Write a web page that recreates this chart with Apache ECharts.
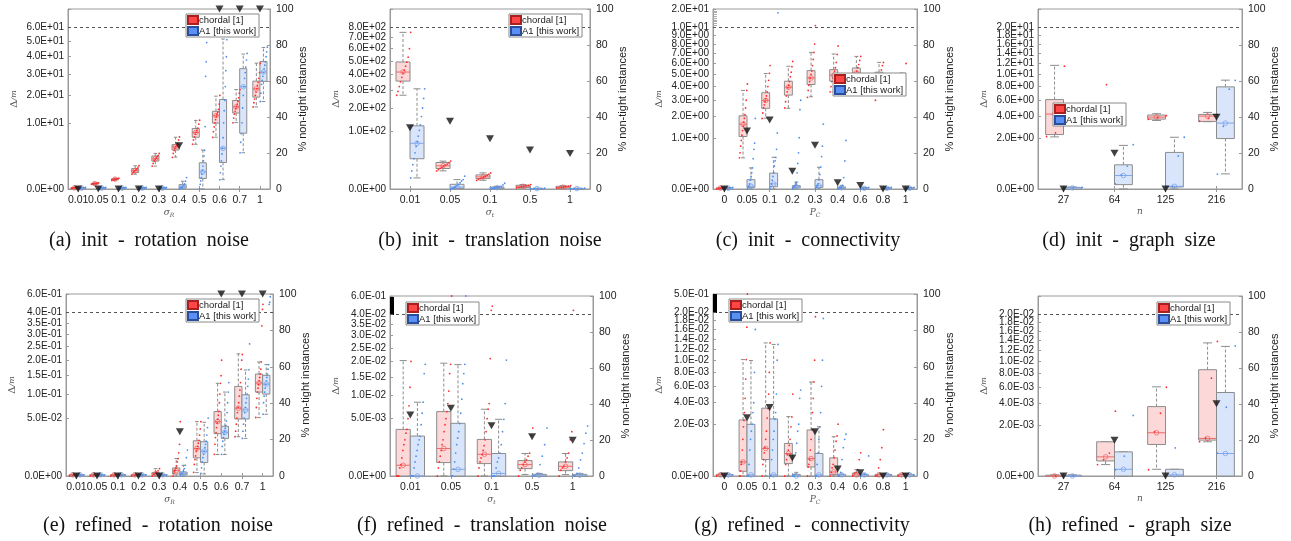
<!DOCTYPE html>
<html>
<head>
<meta charset="utf-8">
<script src="https://cdn.jsdelivr.net/npm/echarts@6/dist/echarts.min.js"></script>
<style>
  html, body { margin: 0; padding: 0; background: #fff; }
  #chart { width: 1291px; height: 541px; }
</style>
</head>
<body>
<div id="chart"></div>
<script>
// categories
const catsRot = ['0.01', '0.05', '0.1', '0.2', '0.3', '0.4', '0.5', '0.6', '0.7', '1']
const catsTrans = ['0.01', '0.05', '0.1', '0.5', '1']
const catsConn = ['0', '0.05', '0.1', '0.2', '0.3', '0.4', '0.6', '0.8', '1']
const catsSize = ['27', '64', '125', '216']

// (a) init - rotation noise   box = [min, q1, median, q3, max]
const aTicks = [0, 10, 20, 30, 40, 50, 60]
const aChordalBox = [[0.001, 0.002, 0.003, 0.005, 0.008], [0.05, 0.06, 0.066, 0.075, 0.085], [0.17, 0.2, 0.22, 0.24, 0.27], [0.5, 0.62, 0.78, 0.96, 1.23], [1.2, 1.78, 2.09, 2.48, 2.9], [2.33, 3.48, 4.04, 4.5, 6.13], [4.57, 6.13, 7.3, 8.37, 10.76], [6.13, 9.93, 12.3, 13.8, 19.7], [10.1, 13.2, 15.4, 17.9, 22.6], [15.4, 19.3, 22.95, 26.6, 36.2]]
const aA1Box = [[0, 0, 0.002, 0.004, 0.006], [0, 0, 0.002, 0.004, 0.006], [0, 0, 0.002, 0.004, 0.006], [0, 0, 0.002, 0.004, 0.006], [0, 0, 0.002, 0.004, 0.006], [0, 0.002, 0.01, 0.044, 0.137], [0, 0.25, 0.67, 1.57, 3.48], [0.2, 1.61, 3.78, 18.3, 51.4], [3.01, 7.12, 23.9, 33.1, 41.6], [17.5, 26.5, 31.3, 37.1, 45.8]]
const aChordalPts = [[0.001, 0.002, 0.003, 0.004, 0.006, 0.008], [0.05, 0.058, 0.063, 0.067, 0.072, 0.08, 0.088], [0.17, 0.19, 0.21, 0.22, 0.23, 0.25, 0.27], [0.5, 0.6, 0.7, 0.78, 0.85, 0.95, 1.1, 1.25], [1.2, 1.5, 1.8, 2.0, 2.2, 2.4, 2.6, 2.9], [2.3, 2.9, 3.4, 3.8, 4.1, 4.4, 4.8, 5.5, 6.2], [4.6, 5.5, 6.2, 6.9, 7.4, 7.9, 8.5, 9.6, 10.8], [6.1, 7.5, 8.8, 10, 11, 12, 12.8, 13.5, 14.5, 16.5, 20], [10, 11.5, 12.8, 13.8, 14.8, 15.6, 16.5, 17.5, 19, 21, 22.6], [15.4, 17, 18.5, 20, 21.5, 23, 24.5, 26, 28, 31, 36]]
const aA1Pts = [[0.0005, 0.001, 0.002, 0.003, 0.005], [0.0005, 0.001, 0.002, 0.003, 0.005], [0.0005, 0.001, 0.002, 0.003, 0.005], [0.0005, 0.001, 0.002, 0.003, 0.005], [0.0005, 0.001, 0.002, 0.003, 0.005], [0, 0.002, 0.005, 0.01, 0.03, 0.06, 0.14, 0.3], [0, 0.05, 0.15, 0.3, 0.5, 0.8, 1.2, 1.8, 2.5, 3.4, 8.9, 29, 37, 49], [0.2, 0.6, 1.2, 1.8, 2.8, 3.8, 6, 10, 14, 18, 24, 32, 40, 51], [3, 5, 7, 10, 15, 20, 24, 28, 31, 34, 38, 42], [17.5, 21, 25, 27, 29, 31, 33, 35, 37, 40, 43, 46]]
const aNonTight = [0, 0, 0, 0, 0, 24, null, 100, 100, 100]

// (b) init - translation noise
const bTicks = [0, 100, 200, 300, 400, 500, 600, 700, 800]
const bChordalBox = [[268, 355, 417, 492, 748], [10, 12.8, 16.4, 21.5, 23.7], [2.33, 3.31, 4.46, 6.07, 7.9], [0.03, 0.06, 0.22, 0.42, 0.6], [0.02, 0.03, 0.1, 0.22, 0.35]]
const bA1Box = [[3.75, 27.9, 63.7, 121.7, 306], [0, 0.01, 0.12, 0.67, 2.7], [0, 0.01, 0.05, 0.12, 0.22], [0, 0, 0.005, 0.01, 0.02], [0, 0, 0.005, 0.01, 0.02]]
const bChordalPts = [[268, 290, 320, 350, 380, 410, 430, 460, 490, 530, 600, 748], [10, 11.5, 13, 14.5, 16, 17.5, 19, 21, 23.7], [2.3, 2.8, 3.3, 3.8, 4.4, 5, 5.8, 6.8, 7.9], [0.03, 0.06, 0.12, 0.2, 0.3, 0.42, 0.6], [0.02, 0.04, 0.08, 0.12, 0.18, 0.25, 0.35]]
const bA1Pts = [[3.7, 10, 18, 28, 40, 55, 68, 85, 105, 125, 160, 200, 250, 306], [0, 0.01, 0.05, 0.12, 0.3, 0.67, 1.2, 2, 2.7, 5], [0, 0.01, 0.03, 0.05, 0.09, 0.12, 0.22, 0.5, 1], [0, 0.002, 0.005, 0.01, 0.02], [0, 0.002, 0.005, 0.01, 0.02]]
const bNonTight = [34, 37.7, 27.9, 21.7, 19.7]

// (c) init - connectivity
const cTicks = [0, 1, 2, 3, 4, 5, 6, 7, 8, 9, 10]
const cTopMax = 20
const cCramTicks = [11, 12, 13, 14, 15, 16, 17, 18, 19]
const cChordalBox = [[0, 0.0001, 0.0003, 0.0005, 0.001], [0.37, 1.05, 1.6, 2.04, 3.7], [1.91, 2.48, 2.99, 3.53, 5.08], [2.48, 3.36, 3.95, 4.43, 5.74], [3.24, 4.16, 4.7, 5.34, 7.11], [3.6, 4.43, 4.93, 5.43, 6.94], [3.6, 4.6, 5.13, 5.58, 6.7], [3.36, 4.2, 4.7, 5.2, 6.11], [3.46, 3.85, 4.16, 4.43, 5.13]]
const cA1Box = [[0, 0, 0.0002, 0.0005, 0.001], [0, 0.001, 0.003, 0.033, 0.17], [0, 0.002, 0.01, 0.096, 0.384], [0, 0.0005, 0.002, 0.0042, 0.018], [0, 0.001, 0.004, 0.033, 0.18], [0, 0.0002, 0.0006, 0.0015, 0.005], [0, 0, 0.0002, 0.0005, 0.001], [0, 0, 0.0002, 0.0005, 0.001], [0, 0, 0.0002, 0.0005, 0.001]]
const cChordalPts = [[0, 0.0001, 0.0003, 0.0006, 0.001], [0.37, 0.5, 0.7, 0.9, 1.1, 1.3, 1.5, 1.7, 1.9, 2.1, 2.5, 3, 3.7, 4.2], [1.9, 2.2, 2.5, 2.7, 2.9, 3.1, 3.3, 3.6, 4, 4.5, 5.1, 5.8], [2.5, 2.9, 3.3, 3.6, 3.9, 4.1, 4.4, 4.8, 5.2, 5.7, 6.2], [3.2, 3.7, 4.1, 4.4, 4.7, 5, 5.3, 5.8, 6.4, 7.1, 8, 10.8], [3.6, 4, 4.4, 4.7, 5, 5.3, 5.6, 6.1, 6.9, 7.8], [3.6, 4.2, 4.6, 5, 5.3, 5.6, 5.9, 6.3, 6.7], [3, 3.4, 3.8, 4.2, 4.6, 5, 5.4, 5.8, 6.1], [3.5, 3.7, 3.9, 4.1, 4.3, 4.5, 4.8, 5.1, 6]]
const cA1Pts = [[0, 0.0002, 0.0005, 0.001], [0, 0.001, 0.003, 0.01, 0.03, 0.06, 0.1, 0.17, 0.35, 0.6, 0.8, 1.9], [0, 0.002, 0.01, 0.03, 0.06, 0.1, 0.2, 0.3, 0.38, 0.6, 1.2, 17.9], [0, 0.0005, 0.002, 0.004, 0.01, 0.018, 0.1, 0.25, 0.5, 1.0, 2.4, 3], [0, 0.001, 0.004, 0.01, 0.033, 0.08, 0.18, 0.4, 0.7, 1.6], [0, 0.0003, 0.0006, 0.0015, 0.005, 0.05, 0.3, 0.9], [0, 0.0002, 0.0005, 0.001], [0, 0.0002, 0.0005, 0.001], [0, 0.0002, 0.0005, 0.001]]
const cNonTight = [0, 32.2, 38.3, 9.9, 24.3, 3.5, 1.9, 0, 0]

// (d) init - graph size
const dTicks = [0, 2, 4, 6, 8, 10, 12, 14, 16, 18, 20]
const dChordalBox = [[2.07, 2.26, 4.28, 6.09, 11.65], null, [3.58, 3.72, 3.94, 4.17, 4.32], [3.45, 3.48, 4.05, 4.24, 4.47]]
const dA1Box = [[0, 0, 0.001, 0.002, 0.003], [0, 0.0145, 0.138, 0.446, 1.45], [0, 0.003, 0.0055, 1.02, 2.04], [0.174, 1.94, 3.31, 7.95, 9.03]]
const dChordalPts = [[2.1, 2.4, 11.5], [8.3], [3.7, 3.9, 4.1], [3.5, 3.8, 4.2]]
const dA1Pts = [[0, 0.001, 0.002], [0.02, 0.15, 0.4, 1.5], [0.004, 0.005, 0.83, 2.04], [0.17, 3.0, 7.6, 9.0]]
const dNonTight = [0, 19.9, 0, 39.8]

// (e) refined - rotation noise
const eTicks = [0, 0.05, 0.1, 0.15, 0.2, 0.25, 0.3, 0.35, 0.4]
const eTopMax = 0.6
const eChordalBox = [[0, 0.00001, 0.00002, 0.00003, 0.00005], [0, 0.00001, 0.00002, 0.00003, 0.00005], [0, 0.00001, 0.00002, 0.00003, 0.00005], [0, 0.00001, 0.00002, 0.00003, 0.00005], [0, 0.00002, 0.00008, 0.000168, 0.00081], [0, 0.00006, 0.00043, 0.00097, 0.00454], [0.00017, 0.0049, 0.0113, 0.0185, 0.0441], [0.00688, 0.0267, 0.0441, 0.0619, 0.128], [0.023, 0.0485, 0.0685, 0.1197, 0.2225], [0.0509, 0.105, 0.129, 0.155, 0.194]]
const eA1Box = [[0, 0.00001, 0.00002, 0.00003, 0.00005], [0, 0.00001, 0.00002, 0.00003, 0.00005], [0, 0.00001, 0.00002, 0.00003, 0.00005], [0, 0.00001, 0.00002, 0.00003, 0.00005], [0, 0.00001, 0.00002, 0.00003, 0.00005], [0, 0.00002, 0.0001, 0.00024, 0.00172], [0.00006, 0.00269, 0.0092, 0.0175, 0.043], [0.0069, 0.0211, 0.0284, 0.0368, 0.105], [0.0211, 0.0485, 0.0652, 0.0984, 0.1677], [0.0569, 0.1, 0.126, 0.151, 0.185]]
const eChordalPts = [[0, 0.00001, 0.00002], [0, 0.00001, 0.00002], [0, 0.00001, 0.00002], [0, 0.00001, 0.00002], [0, 0.00005, 0.0001, 0.0002, 0.0004, 0.0008], [0, 0.0001, 0.0003, 0.0005, 0.0009, 0.0015, 0.003, 0.0045, 0.008, 0.015, 0.044], [0.0002, 0.002, 0.004, 0.006, 0.009, 0.011, 0.013, 0.016, 0.019, 0.025, 0.033, 0.044], [0.007, 0.015, 0.022, 0.028, 0.035, 0.042, 0.048, 0.055, 0.062, 0.08, 0.1, 0.128, 0.15, 0.2], [0.023, 0.03, 0.04, 0.05, 0.06, 0.07, 0.08, 0.095, 0.11, 0.13, 0.17, 0.2, 0.22], [0.051, 0.07, 0.09, 0.105, 0.115, 0.125, 0.135, 0.145, 0.155, 0.17, 0.194, 0.336, 0.432, 0.486]]
const eA1Pts = [[0, 0.00001, 0.00002], [0, 0.00001, 0.00002], [0, 0.00001, 0.00002], [0, 0.00001, 0.00002], [0, 0.00001, 0.00002], [0, 0.00005, 0.0001, 0.0003, 0.0008, 0.0017, 0.005, 0.01], [0.0001, 0.001, 0.003, 0.005, 0.007, 0.009, 0.012, 0.015, 0.018, 0.025, 0.035, 0.05], [0.007, 0.013, 0.018, 0.022, 0.026, 0.03, 0.034, 0.038, 0.045, 0.06, 0.08, 0.105, 0.13], [0.021, 0.03, 0.04, 0.05, 0.06, 0.07, 0.08, 0.09, 0.1, 0.12, 0.14, 0.168, 0.26], [0.057, 0.08, 0.095, 0.105, 0.115, 0.125, 0.135, 0.145, 0.155, 0.17, 0.185, 0.486, 0.51, 0.57]]
const eNonTight = [0, 0, 0, 0, 0, 24.3, null, 100, 100, 100]

// (f) refined - translation noise
const fTicks = [0, 0.005, 0.01, 0.015, 0.02, 0.025, 0.03, 0.035, 0.04]
const fTopMax = 0.6
const fCramTicks = [0.05, 0.1, 0.15, 0.2, 0.25, 0.3, 0.35, 0.4, 0.45, 0.5, 0.55]
const fChordalBox = [[0, 0, 0.000176, 0.00331, 0.0203], [0, 0.000274, 0.00115, 0.00632, 0.0194], [0, 0.000235, 0.000724, 0.00204, 0.00679], [0.000003, 0.000083, 0.000198, 0.000363, 0.00077], [0.000003, 0.000044, 0.000144, 0.000302, 0.00077]]
const fA1Box = [[0, 0, 0, 0.00243, 0.0083], [0, 0, 0.0000686, 0.00423, 0.0189], [0, 0, 0.00001, 0.00077, 0.0049], [0, 0, 0.000001, 0.000004, 0.00001], [0, 0, 0.000001, 0.000004, 0.00001]]
const fChordalPts = [[0, 0, 0, 0.0001, 0.0002, 0.0005, 0.001, 0.0015, 0.002, 0.0028, 0.0033, 0.005, 0.0075, 0.012, 0.02], [0, 0.0001, 0.0003, 0.0006, 0.001, 0.0015, 0.002, 0.003, 0.004, 0.005, 0.0063, 0.008, 0.011, 0.016, 0.019, 0.6], [0, 0.0001, 0.0003, 0.0005, 0.0007, 0.001, 0.0014, 0.002, 0.003, 0.005, 0.0068, 0.008, 0.021, 0.154, 0.288], [0, 0.00005, 0.0001, 0.0002, 0.0003, 0.0004, 0.0006, 0.0008, 0.0025, 0.0035], [0, 0.00005, 0.0001, 0.00015, 0.0003, 0.0005, 0.0008, 0.002, 0.003, 0.154]]
const fA1Pts = [[0, 0, 0, 0.0001, 0.0003, 0.0006, 0.001, 0.0015, 0.002, 0.0024, 0.004, 0.006, 0.0083, 0.016, 0.019], [0, 0, 0.00007, 0.0003, 0.0008, 0.0015, 0.0022, 0.003, 0.0042, 0.006, 0.009, 0.013, 0.016, 0.019, 0.6], [0, 0, 0, 0.0001, 0.0003, 0.0005, 0.0008, 0.0015, 0.003, 0.0049, 0.008, 0.0205], [0, 0, 0.00001, 0.0002, 0.0006, 0.0015, 0.0035], [0, 0, 0.00001, 0.0001, 0.0004, 0.0008, 0.0016, 0.0028, 0.0038]]
const fNonTight = [33.9, 37.6, 27.9, 21.8, 19.9]

// (g) refined - connectivity
const gTicks = [0, 0.002, 0.004, 0.006, 0.008, 0.01, 0.012, 0.014, 0.016, 0.018, 0.02]
const gTopMax = 0.5
const gCramTicks = [0.025, 0.05, 0.075, 0.1, 0.125, 0.15, 0.175, 0.2, 0.225, 0.25, 0.275, 0.3, 0.325, 0.35, 0.375, 0.4, 0.425, 0.45, 0.475]
const gChordalBox = [[0, 0, 0.000001, 0.000002, 0.000003], [0, 0.0000165, 0.000148, 0.00234, 0.0101], [0, 0.000202, 0.000565, 0.00343, 0.0132], [0, 0.000115, 0.000377, 0.00079, 0.00263], [0, 0.0000612, 0.000227, 0.00158, 0.00658], [0, 0.0000013, 0.0000121, 0.000245, 0.00115], [0, 0, 0.000001, 0.0000068, 0.00003], [0, 0, 0.000001, 0.000002, 0.000003], [0, 0, 0.000001, 0.000002, 0.000003]]
const gA1Box = [[0, 0, 0.000001, 0.000002, 0.000003], [0, 0, 0.000001, 0.00199, 0.00994], [0, 0, 0.000001, 0.00243, 0.0129], [0, 0, 0, 0.000002, 0.00001], [0, 0, 0.000001, 0.000377, 0.00181], [0, 0, 0.000001, 0.000002, 0.000003], [0, 0, 0.000001, 0.000002, 0.000003], [0, 0, 0.000001, 0.000002, 0.000003], [0, 0, 0.000001, 0.000002, 0.000003]]
const gChordalPts = [[0, 0.000001], [0, 0, 0.00002, 0.0001, 0.00015, 0.0005, 0.001, 0.0018, 0.0023, 0.003, 0.0045, 0.007, 0.0101, 0.0165, 0.5], [0, 0.0001, 0.0002, 0.0004, 0.0006, 0.001, 0.0015, 0.0025, 0.0034, 0.005, 0.008, 0.0132], [0, 0.0001, 0.0002, 0.00035, 0.0005, 0.0007, 0.001, 0.0018, 0.0026, 0.005], [0, 0.00006, 0.0001, 0.0002, 0.0005, 0.001, 0.0016, 0.003, 0.0045, 0.0066, 0.01, 0.0189], [0, 0.00001, 0.00005, 0.0001, 0.00025, 0.0005, 0.0009, 0.0012, 0.002], [0, 0.000005, 0.00001, 0.00003, 0.0002, 0.0004], [0, 0, 0.00005, 0.0002, 0.0006, 0.0016], [0, 0.000001]]
const gA1Pts = [[0, 0.000001], [0, 0, 0.0001, 0.0005, 0.001, 0.0015, 0.002, 0.003, 0.004, 0.008, 0.016], [0, 0, 0.0002, 0.0005, 0.001, 0.0015, 0.0024, 0.003, 0.005, 0.01, 0.0129], [0, 0, 0.000002, 0.0004, 0.0008, 0.0015, 0.002, 0.0045, 0.0055], [0, 0, 0.0001, 0.0004, 0.001, 0.0018, 0.003, 0.006, 0.01, 0.0185], [0, 0, 0.00001, 0.0002, 0.0006, 0.001, 0.0013], [0, 0.000002, 0.0003], [0, 0.000001], [0, 0.000001]]
const gNonTight = [0, 32, 37.7, 9.9, 24.3, 3.9, 1.8, 0, 0]

// (h) refined - graph size
const hTicks = [0, 0.002, 0.004, 0.006, 0.008, 0.01, 0.012, 0.014, 0.016, 0.018, 0.02]
const hChordalBox = [[0, 0, 0, 0.0000005, 0.000001], [0.000099, 0.000173, 0.000279, 0.000892, 0.000892], [0.0000343, 0.000757, 0.001426, 0.00367, 0.00606], [0.000892, 0.000981, 0.001075, 0.00861, 0.0135]]
const hA1Box = [[0, 0, 0, 0.0000005, 0.000001], [0, 0, 0.0000343, 0.000444, 0.000444], [0, 0, 0.000001, 0.0000343, 0.0000343], [0, 0, 0.000385, 0.00531, 0.0128]]
const hChordalPts = [[0], [0.0001, 0.0002, 0.0004, 0.0032], [0.00003, 0.0015, 0.003, 0.006], [0.0009, 0.0011, 0.0073, 0.0138]]
const hA1Pts = [[0], [0.00003, 0.0003, 0.0028], [0.0006], [0.0004, 0.0036, 0.0129]]
const hNonTight = [0, 19.9, 0, 40.2]

const FONT = 'Liberation Sans'
const GRAY = '#8c8c8c'
const RED_FILL = '#fcd8d8'
const BLUE_FILL = '#d9e5fa'
const RED_MED = '#f06a6a'
const BLUE_MED = '#7fa6ee'
const RED_DOT = '#ff2e2e'
const BLUE_DOT = '#4f8ff0'

const sub = (a, b) => '{v|' + a + '}{s|' + b + '}'

const panels = [
  { cats: catsRot, chordal: aChordalBox, a1: aA1Box, cPts: aChordalPts, aPts: aA1Pts, tri: aNonTight, ticks: aTicks, xName: sub('σ', 'R'), caption: '(a)  init  -  rotation  noise', grid: { left: 68, top: 9, width: 202, height: 180 }, legend: { left: 186, top: 14 }, cap: [149, 231] },
  { cats: catsTrans, chordal: bChordalBox, a1: bA1Box, cPts: bChordalPts, aPts: bA1Pts, tri: bNonTight, ticks: bTicks, xName: sub('σ', 't'), caption: '(b)  init  -  translation  noise', grid: { left: 390, top: 9, width: 200, height: 180 }, legend: { left: 509, top: 14 }, cap: [490, 231] },
  { cats: catsConn, chordal: cChordalBox, a1: cA1Box, cPts: cChordalPts, aPts: cA1Pts, tri: cNonTight, ticks: cTicks, topMax: cTopMax, cram: cCramTicks, cramColor: '#aaaaaa', cramWidth: 1, xName: sub('P', 'C'), caption: '(c)  init  -  connectivity', grid: { left: 713, top: 9, width: 204, height: 180 }, legend: { left: 833, top: 73 }, cap: [808, 231] },
  { cats: catsSize, chordal: dChordalBox, a1: dA1Box, cPts: dChordalPts, aPts: dA1Pts, tri: dNonTight, ticks: dTicks, xName: '{v|n}', caption: '(d)  init  -  graph  size', grid: { left: 1038, top: 9, width: 204, height: 180 }, legend: { left: 1053, top: 103 }, cap: [1129, 231] },
  { cats: catsRot, chordal: eChordalBox, a1: eA1Box, cPts: eChordalPts, aPts: eA1Pts, tri: eNonTight, ticks: eTicks, topMax: eTopMax, xName: sub('σ', 'R'), caption: '(e)  refined  -  rotation  noise', grid: { left: 66, top: 294, width: 207, height: 182 }, legend: { left: 186, top: 299 }, cap: [158, 516] },
  { cats: catsTrans, chordal: fChordalBox, a1: fA1Box, cPts: fChordalPts, aPts: fA1Pts, tri: fNonTight, ticks: fTicks, topMax: fTopMax, cram: fCramTicks, cramColor: '#000', cramWidth: 2, xName: sub('σ', 't'), caption: '(f)  refined  -  translation  noise', grid: { left: 390, top: 296, width: 203, height: 180 }, legend: { left: 406, top: 302 }, cap: [482, 516] },
  { cats: catsConn, chordal: gChordalBox, a1: gA1Box, cPts: gChordalPts, aPts: gA1Pts, tri: gNonTight, ticks: gTicks, topMax: gTopMax, cram: gCramTicks, cramColor: '#000', cramWidth: 2, xName: sub('P', 'C'), caption: '(g)  refined  -  connectivity', grid: { left: 713, top: 294, width: 204, height: 182 }, legend: { left: 729, top: 299 }, cap: [802, 516] },
  { cats: catsSize, chordal: hChordalBox, a1: hA1Box, cPts: hChordalPts, aPts: hA1Pts, tri: hNonTight, ticks: hTicks, xName: '{v|n}', caption: '(h)  refined  -  graph  size', grid: { left: 1038, top: 296, width: 204, height: 180 }, legend: { left: 1157, top: 302 }, cap: [1130, 516] }
]

// 0.0E+00 style labels
function fmtE (v) {
  if (v === 0) return '0.0E+00'
  const parts = v.toExponential(1).split('e')
  const e = parts[1]
  return parts[0] + 'E' + e[0] + e.slice(1).padStart(2, '0')
}

function boxRender (side, fill, med) {
  return function (params, api) {
    const i = api.value(0)
    const bw = api.size([1, 0])[0]
    const cx = api.coord([i, 0])[0]
    const w = bw * 0.35
    const x0 = side < 0 ? cx - w : cx
    const mid = x0 + w / 2
    const y = [1, 2, 3, 4, 5].map(d => api.coord([i, api.value(d)])[1])
    const dash = { stroke: GRAY, lineWidth: 1, lineDash: [3, 2] }
    const solid = { stroke: GRAY, lineWidth: 1 }
    return {
      type: 'group',
      children: [
        { type: 'line', shape: { x1: mid, y1: y[3], x2: mid, y2: y[4] }, style: dash },
        { type: 'line', shape: { x1: mid, y1: y[1], x2: mid, y2: y[0] }, style: dash },
        { type: 'line', shape: { x1: mid - w * 0.25, y1: y[4], x2: mid + w * 0.25, y2: y[4] }, style: solid },
        { type: 'line', shape: { x1: mid - w * 0.25, y1: y[0], x2: mid + w * 0.25, y2: y[0] }, style: solid },
        { type: 'rect', shape: { x: x0, y: y[3], width: w, height: Math.max(y[1] - y[3], 1) }, style: { fill: fill, stroke: GRAY, lineWidth: 1 } },
        { type: 'line', shape: { x1: x0, y1: y[2], x2: x0 + w, y2: y[2] }, style: { stroke: med, lineWidth: 1 } },
        { type: 'circle', shape: { cx: mid, cy: y[2], r: 2.3 }, style: { fill: 'none', stroke: med, lineWidth: 0.8 } }
      ]
    }
  }
}

function dotRender (side, color) {
  return function (params, api) {
    const i = api.value(0)
    const rank = api.value(2)
    const n = api.value(3)
    const bw = api.size([1, 0])[0]
    const cx = api.coord([i, 0])[0]
    const w = bw * 0.35
    const x0 = side < 0 ? cx - w : cx
    const f = n > 1 ? rank / (n - 1) : 0.5
    const x = x0 + w * (0.05 + f * 1.0)
    const y = api.coord([i, api.value(1)])[1]
    return { type: 'circle', shape: { cx: x, cy: y, r: 0.9 }, style: { fill: color } }
  }
}

const option = {
  animation: false,
  backgroundColor: '#fff',
  grid: [],
  xAxis: [],
  yAxis: [],
  legend: [],
  series: [],
  graphic: []
}

panels.forEach((p, k) => {
  const topTick = p.ticks[p.ticks.length - 1]
  const s = Math.sqrt(topTick)
  const T = v => (p.topMax && v > topTick) ? s + (v - topTick) / (p.topMax - topTick) * s / 9 : Math.sqrt(v)
  const ymax = p.topMax ? T(p.topMax) : s / 0.9
  // label at the top edge: the compressed-range maximum, or a blank one
  const labelVals = p.ticks.concat([p.topMax ? p.topMax : null])
  const labelPos = labelVals.map((v, j) => v == null ? ymax : T(v))

  option.grid.push(Object.assign({ show: true, borderColor: '#9a9a9a', borderWidth: 1 }, p.grid))

  option.xAxis.push({
    gridIndex: k,
    type: 'category',
    data: p.cats,
    axisLine: { lineStyle: { color: '#9a9a9a' } },
    axisTick: { show: true, inside: true, length: 3, alignWithLabel: true, lineStyle: { color: '#9a9a9a' } },
    axisLabel: { interval: 0, color: '#222', fontSize: 10.5, fontFamily: FONT, margin: 6 },
    name: p.xName,
    nameLocation: 'middle',
    nameGap: 18,
    nameTextStyle: {
      rich: {
        v: { fontFamily: 'DejaVu Serif', fontStyle: 'italic', fontSize: 9, color: '#555' },
        s: { fontFamily: 'DejaVu Serif', fontStyle: 'italic', fontSize: 6, color: '#555', verticalAlign: 'bottom', padding: [5, 0, 0, 0] }
      }
    }
  })
  // mirrored ticks on top border
  option.xAxis.push({
    gridIndex: k,
    type: 'category',
    position: 'top',
    data: p.cats,
    axisLine: { show: false },
    axisTick: { show: true, inside: true, length: 3, alignWithLabel: true, lineStyle: { color: '#9a9a9a' } },
    axisLabel: { show: false }
  })
  const xi = option.xAxis.length - 2

  const yl = option.yAxis.length
  option.yAxis.push({
    gridIndex: k,
    type: 'value',
    position: 'left',
    min: 0,
    max: ymax,
    axisLine: { show: true, lineStyle: { color: '#9a9a9a' } },
    axisTick: { show: true, inside: true, length: 3, customValues: labelPos, lineStyle: { color: '#9a9a9a' } },
    axisLabel: {
      customValues: labelPos,
      showMinLabel: true,
      showMaxLabel: true,
      hideOverlap: false,
      color: '#222',
      fontSize: 10,
      lineHeight: 6,
      fontFamily: FONT,
      margin: 4,
      formatter: function (v) {
        let best = 0
        labelPos.forEach((q, j) => { if (Math.abs(q - v) < Math.abs(labelPos[best] - v)) best = j })
        return labelVals[best] == null ? '' : fmtE(labelVals[best])
      }
    },
    splitLine: { show: false },
    name: '{d|Δ}{m|/m}',
    nameLocation: 'middle',
    nameRotate: 90,
    nameGap: 49,
    nameTextStyle: {
      rich: {
        d: { fontFamily: 'DejaVu Serif', fontSize: 10, color: '#555' },
        m: { fontFamily: 'DejaVu Serif', fontStyle: 'italic', fontSize: 8, color: '#555' }
      }
    }
  })
  option.yAxis.push({
    gridIndex: k,
    type: 'value',
    position: 'right',
    min: 0,
    max: 100,
    interval: 20,
    axisLine: { show: true, lineStyle: { color: '#9a9a9a' } },
    axisTick: { show: true, inside: true, length: 3, lineStyle: { color: '#9a9a9a' } },
    axisLabel: { color: '#222', fontSize: 10.5, fontFamily: FONT, margin: 6, showMaxLabel: true, showMinLabel: true },
    splitLine: { show: false },
    name: '% non-tight instances',
    nameLocation: 'middle',
    nameRotate: 90,
    nameGap: 27,
    nameTextStyle: { color: '#222', fontSize: 11, fontFamily: FONT }
  })
  if (p.cram) {
    option.yAxis.push({
      gridIndex: k,
      type: 'value',
      position: 'left',
      offset: 0,
      min: 0,
      max: ymax,
      axisLine: { show: false },
      axisTick: { show: true, inside: true, length: 4, customValues: p.cram.map(T), lineStyle: { color: p.cramColor, width: p.cramWidth } },
      axisLabel: { show: false },
      splitLine: { show: false }
    })
  }

  const boxData = arr => arr.map((b, i) => b ? [i].concat(b.map(T)) : null).filter(Boolean)
  const dotData = arr => {
    const out = []
    arr.forEach((vals, i) => {
      const sorted = vals.slice().sort((a, b) => a - b)
      sorted.forEach((v, r) => out.push([i, T(v), r, sorted.length]))
    })
    return out
  }

  option.series.push({
    type: 'custom', name: 'chordal [1]', xAxisIndex: xi, yAxisIndex: yl,
    itemStyle: { color: '#ff4545', borderColor: '#a82020', borderWidth: 1 },
    encode: { x: 0, y: [1, 2, 3, 4, 5] },
    renderItem: boxRender(-1, RED_FILL, RED_MED),
    data: boxData(p.chordal), z: 2
  })
  option.series.push({
    type: 'custom', name: 'A1 [this work]', xAxisIndex: xi, yAxisIndex: yl,
    itemStyle: { color: '#5b8ff5', borderColor: '#2a4f9a', borderWidth: 1 },
    encode: { x: 0, y: [1, 2, 3, 4, 5] },
    renderItem: boxRender(1, BLUE_FILL, BLUE_MED),
    data: boxData(p.a1), z: 2
  })
  option.series.push({
    type: 'custom', name: 'chordal [1]', xAxisIndex: xi, yAxisIndex: yl,
    itemStyle: { color: '#ff4545' },
    encode: { x: 0, y: 1 },
    renderItem: dotRender(-1, RED_DOT),
    data: dotData(p.cPts), z: 3
  })
  option.series.push({
    type: 'custom', name: 'A1 [this work]', xAxisIndex: xi, yAxisIndex: yl,
    itemStyle: { color: '#5b8ff5' },
    encode: { x: 0, y: 1 },
    renderItem: dotRender(1, BLUE_DOT),
    data: dotData(p.aPts), z: 3
  })
  option.series.push({
    type: 'scatter', name: 'non-tight', xAxisIndex: xi, yAxisIndex: yl + 1,
    symbol: 'triangle', symbolRotate: 180, symbolSize: [8, 7], clip: false,
    itemStyle: { color: '#111' },
    data: p.tri.map((v, i) => v == null ? null : [i, v]).filter(Boolean),
    markLine: {
      silent: true, symbol: ['none', 'none'], label: { show: false },
      lineStyle: { color: '#555', type: [3, 3], width: 1 },
      data: [{ yAxis: 90 }]
    },
    z: 4
  })

  option.legend.push({
    data: ['chordal [1]', 'A1 [this work]'],
    orient: 'vertical',
    left: p.legend.left,
    top: p.legend.top,
    icon: 'rect',
    itemWidth: 10,
    itemHeight: 8,
    itemGap: 1,
    padding: [1, 3, 1, 1],
    borderColor: '#8a8a8a',
    borderWidth: 1,
    backgroundColor: '#fff',
    selectedMode: false,
    textStyle: { fontSize: 9.5, color: '#222', fontFamily: FONT, lineHeight: 9, padding: [0, 0, 0, -4] },
    z: 10
  })

  option.graphic.push({
    type: 'text',
    x: p.cap[0],
    y: p.cap[1],
    style: { text: p.caption, textAlign: 'center', fill: '#111', font: '20px "Liberation Serif"' }
  })
})

const chart = echarts.init(document.getElementById('chart'), null, { renderer: 'canvas' })
chart.setOption(option)
</script>
</body>
</html>
